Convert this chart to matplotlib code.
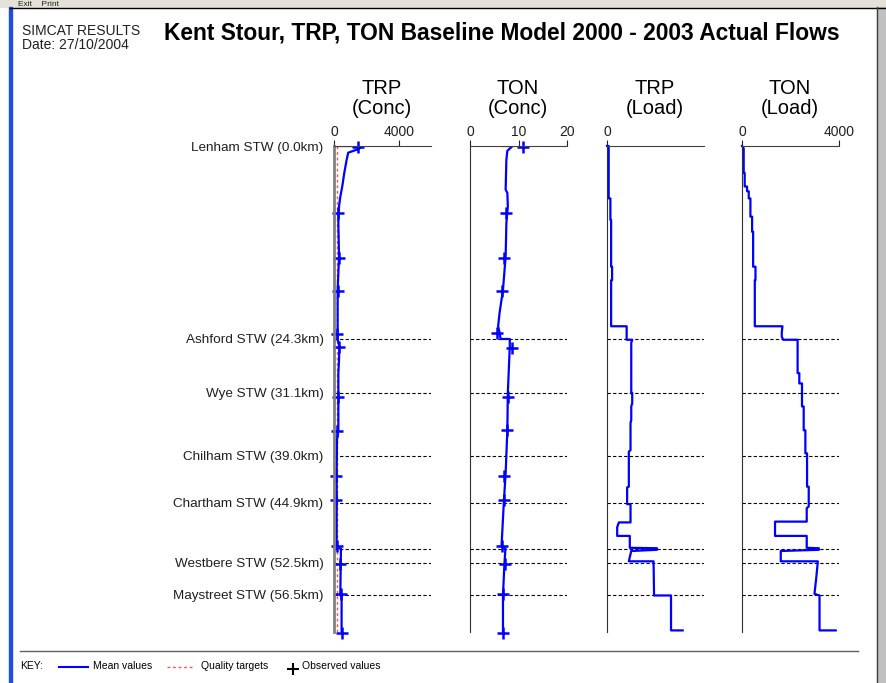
import matplotlib.pyplot as plt
from matplotlib.patches import Rectangle

plt.rcParams['font.family'] = ['Liberation Sans', 'DejaVu Sans']

# station labels down the river (km from Lenham)
station_names = ['Lenham STW (0.0km)', 'Ashford STW (24.3km)', 'Wye STW (31.1km)',
                 'Chilham STW (39.0km)', 'Chartham STW (44.9km)', 'Westbere STW (52.5km)',
                 'Maystreet STW (56.5km)']
station_km = [0.0, 24.3, 31.1, 39.0, 44.9, 52.5, 56.5]
dashed_km = [24.3, 31.1, 39.0, 44.9, 50.7, 52.5, 56.5]

# TRP concentration
trp_conc_km = [0, 0, 0.4, 0.84, 1.76, 3.4, 5.1, 6.4, 7.6, 9.7, 13.9, 16.0, 18.1, 22.7, 24.3,
               25.3, 27.0, 28.6, 35.8, 37.0, 41.2, 50.6, 50.7, 56.6, 56.6, 61.2]
trp_conc = [100, 1800, 1500, 880, 780, 635, 510, 390, 310, 270, 310, 270, 225, 225, 225,
            330, 310, 270, 270, 185, 165, 165, 430, 390, 470, 470]
trp_obs_km = [0.1, 8.4, 14.1, 18.3, 23.7, 25.3, 31.6, 35.9, 41.6, 44.6, 50.4, 52.6, 56.4, 61.3]
trp_obs = [1500, 270, 310, 225, 165, 330, 270, 185, 125, 125, 165, 370, 410, 470]
trp_target_km = [0, 61.2]
trp_target = [170, 170]

# TON concentration
ton_conc_km = [0, 0, 0.6, 1.76, 5.5, 5.9, 7.6, 9.7, 13.9, 18.1, 21.0, 22.7, 23.5, 24.3, 24.3,
               25.3, 31.1, 35.8, 41.2, 44.6, 50.4, 50.7, 52.6, 56.6, 61.2]
ton_conc = [6.8, 8.8, 7.7, 7.5, 7.35, 7.7, 7.8, 7.5, 7.35, 6.8, 6.1, 5.8, 6.1, 6.3, 8.2,
            8.2, 7.8, 7.7, 7.35, 7.0, 6.5, 7.3, 7.1, 6.8, 6.8]
ton_obs_km = [0.1, 8.4, 14.1, 18.3, 23.6, 25.4, 31.6, 35.8, 41.6, 44.6, 50.4, 52.6, 56.4, 61.3]
ton_obs = [10.9, 7.35, 7.1, 6.7, 5.6, 8.7, 7.8, 7.7, 7.0, 7.0, 6.6, 7.3, 6.8, 6.8]

# TRP load
trp_load_km = [0, 0, 6.6, 6.6, 9.3, 9.3, 15.2, 15.2, 16.9, 16.9, 22.7, 22.7, 24.4, 24.4, 24.8,
               31.1, 31.1, 32.4, 32.8, 34.5, 34.9, 38.3, 38.5, 42.9, 43.0, 45.1, 45.1, 47.4,
               47.4, 48.0, 49.1, 49.1, 50.6, 50.65, 50.85, 51.0, 52.3, 52.3, 56.6, 56.6,
               61.0, 61.0]
trp_load = [0, 7, 7, 14, 14, 17, 17, 21, 21, 17, 17, 81, 81, 104, 100,
            100, 104, 104, 100, 100, 97, 97, 90, 90, 83, 83, 97, 97,
            49, 42, 42, 94, 94, 206, 206, 100, 90, 192, 194, 264,
            264, 312]

# TON load
ton_load_km = [0, 0.3, 3.4, 3.4, 5.1, 5.1, 5.7, 5.7, 6.6, 6.6, 8.9, 8.9, 10.8, 10.8, 15.2,
               15.2, 16.9, 16.9, 22.7, 22.7, 23.5, 24.0, 24.4, 24.4, 28.6, 28.6, 29.9, 29.9,
               32.8, 32.8, 35.8, 35.8, 38.7, 38.7, 42.9, 42.9, 45.4, 45.6, 47.3, 47.3, 49.1,
               49.1, 50.6, 50.65, 50.85, 51.0, 52.3, 52.3, 54.5, 56.4, 56.6, 61.0, 61.0]
ton_load = [0, 70, 70, 111, 111, 208, 208, 278, 278, 347, 347, 417, 417, 459, 459,
            556, 556, 528, 528, 1668, 1640, 1640, 1700, 2293, 2293, 2363, 2363, 2474,
            2474, 2544, 2544, 2613, 2613, 2683, 2683, 2752, 2752, 2669, 2669, 1362, 1362,
            2669, 2669, 3169, 3169, 1598, 1598, 3128, 3058, 2988, 3197, 3197, 3864]

W, H = 886, 683
BLUE = '#0000ff'
fig = plt.figure(figsize=(W / 100, H / 100), dpi=100)

# background "window" drawn in pixel coordinates
bg = fig.add_axes([0, 0, 1, 1])
bg.set_xlim(0, W)
bg.set_ylim(H, 0)
bg.axis('off')
bg.add_patch(Rectangle((0, 0), W, 7, color='#e4e2d8'))
bg.text(18, 6.5, 'Exit    Print', fontsize=6, va='baseline', color='#202020')
bg.plot([10, W], [7.5, 7.5], color='black', lw=1)
bg.add_patch(Rectangle((9, 7), 3, H, color='#1f4fd8'))
bg.add_patch(Rectangle((877, 7), W - 877, H, color='#c0c0c0'))
bg.plot([877, 877], [7, H], color='#404040', lw=1)

bg.text(22, 31, 'SIMCAT RESULTS', fontsize=10, va='center', color='#202020')
bg.text(22, 45, 'Date: 27/10/2004', fontsize=10, va='center', color='#202020')
bg.text(502, 33, 'Kent Stour, TRP, TON Baseline Model 2000 - 2003 Actual Flows',
        fontsize=16.4, fontweight='bold', ha='center', va='center')

# key
bg.plot([20, 858], [651, 651], color='#606060', lw=1)
bg.text(20, 666, 'KEY:', fontsize=7.5, va='center')
bg.plot([59, 88], [667, 667], color=BLUE, lw=1.5)
bg.text(93, 666, 'Mean values', fontsize=7.5, va='center')
bg.plot([167, 194], [667, 667], color='#ff5050', lw=1, ls=(0, (2, 2)))
bg.text(201, 666, 'Quality targets', fontsize=7.5, va='center')
bg.plot([293], [669], '+', color='black', ms=8, mew=1.5)
bg.text(302, 666, 'Observed values', fontsize=7.5, va='center')

panels = [
    (334, 6000, [0, 4000], 'TRP', '(Conc)'),
    (470, 20, [0, 10, 20], 'TON', '(Conc)'),
    (607, 400, [0], 'TRP', '(Load)'),
    (742, 4000, [0, 4000], 'TON', '(Load)'),
]
top, bottom = 146, 632
axes = []
for left, xmax, ticks, name, kind in panels:
    ax = fig.add_axes([left / W, 1 - bottom / H, 97 / W, (bottom - top) / H])
    ax.set_facecolor('none')
    ax.set_xlim(0, xmax)
    ax.set_ylim(61.2, 0)
    for s in ['bottom', 'right']:
        ax.spines[s].set_visible(False)
    ax.spines['top'].set_color('#404040')
    ax.spines['left'].set_color('#303030')
    ax.xaxis.tick_top()
    ax.set_xticks(ticks)
    ax.tick_params(axis='x', length=4, width=0.8, pad=1, labelsize=10, colors='#202020')
    ax.set_yticks([])
    ax.hlines(dashed_km, 0, xmax, colors='black', linestyles=(0, (3, 2)), lw=0.8)
    bg.text(left + 48, 88, name, fontsize=14.5, ha='center', va='center')
    bg.text(left + 48, 109, kind, fontsize=14.5, ha='center', va='center')
    axes.append(ax)

ax1, ax2, ax3, ax4 = axes
ax1.spines['left'].set_color('#808080')
ax1.spines['left'].set_linewidth(2)
ax1.set_yticks(station_km, labels=station_names)
ax1.tick_params(axis='y', length=0, pad=7.5, labelsize=9.7, colors='#202020')

ax1.plot(trp_target, trp_target_km, color='#ff5050', lw=1, ls=(0, (2, 2)))
ax1.plot(trp_conc, trp_conc_km, color=BLUE, lw=1.6)
ax1.plot(trp_obs, trp_obs_km, '+', color=BLUE, ms=9, mew=1.8, clip_on=False)

ax2.plot(ton_conc, ton_conc_km, color=BLUE, lw=1.6)
ax2.plot(ton_obs, ton_obs_km, '+', color=BLUE, ms=9, mew=1.8, clip_on=False)

ax3.plot(trp_load, trp_load_km, color=BLUE, lw=1.6, clip_on=False)
ax4.plot(ton_load, ton_load_km, color=BLUE, lw=1.6, clip_on=False)

fig.savefig('out.png', dpi=100)
